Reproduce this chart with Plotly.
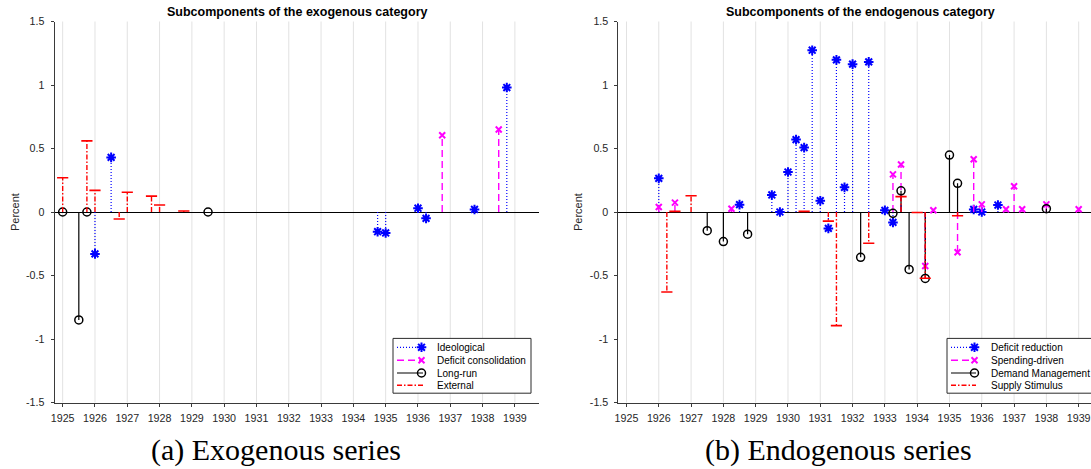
import plotly.graph_objects as go

W, H = 1091, 469

# ---------------- data ----------------
years = list(range(1925, 1940))
year_labels = [str(y) for y in years]
y_ticks = [-1.5, -1, -0.5, 0, 0.5, 1, 1.5]
y_tick_labels = ["-1.5", "-1", "-0.5", "0", "0.5", "1", "1.5"]

# (a) Exogenous series (quarterly, in fractional years)
ideo_x = [1926.0, 1926.5, 1934.75, 1935.0, 1936.0, 1936.25, 1937.75, 1938.75]
ideo_y = [-0.33, 0.43, -0.155, -0.165, 0.03, -0.05, 0.02, 0.98]

defcons_x = [1936.75, 1938.5]
defcons_y = [0.605, 0.65]

longrun_x = [1925.0, 1925.5, 1925.75, 1929.5]
longrun_y = [0.0, -0.85, 0.0, 0.0]

external_x = [1925.0, 1925.75, 1926.0, 1926.75, 1927.0, 1927.75, 1928.0, 1928.75]
external_y = [0.27, 0.56, 0.17, -0.055, 0.155, 0.125, 0.055, 0.008]

# (b) Endogenous series
defred_x = [1926.0, 1928.5, 1929.5, 1929.75, 1930.0, 1930.25, 1930.5, 1930.75,
            1931.0, 1931.25, 1931.5, 1931.75, 1932.0, 1932.5, 1933.0, 1933.25,
            1935.75, 1936.0, 1936.5]
defred_y = [0.265, 0.058, 0.134, 0.0, 0.315, 0.57, 0.507, 1.274,
            0.089, -0.129, 1.198, 0.194, 1.164, 1.182, 0.013, -0.082,
            0.02, 0.0, 0.055]

spend_x = [1926.0, 1926.5, 1928.25, 1933.25, 1933.5, 1934.25, 1934.5, 1935.25,
           1935.75, 1936.0, 1936.75, 1937.0, 1937.25, 1938.0, 1939.0]
spend_y = [0.039, 0.074, 0.026, 0.296, 0.374, -0.425, 0.014, -0.317,
           0.415, 0.06, 0.021, 0.203, 0.021, 0.06, 0.021]

demand_x = [1927.5, 1928.0, 1928.75, 1932.25, 1933.25, 1933.5, 1933.75, 1934.25,
            1935.0, 1935.25, 1938.0]
demand_y = [-0.147, -0.233, -0.175, -0.357, -0.01, 0.167, -0.452, -0.523,
            0.448, 0.226, 0.026]

supply_x = [1926.25, 1926.5, 1927.0, 1930.5, 1931.25, 1931.5, 1932.5, 1933.5,
            1934.0, 1934.25, 1935.25]
supply_y = [-0.63, 0.005, 0.128, 0.005, -0.072, -0.895, -0.246, 0.121,
            -0.004, -0.522, -0.029]

exo_names = ["Ideological", "Deficit consolidation", "Long-run", "External"]
endo_names = ["Deficit reduction", "Spending-driven", "Demand Management", "Supply Stimulus"]

# ---------------- styles ----------------
STY = {
    "blue": dict(color="#0000ff", dash="1px,2px", width=1.2,
                 symbol="asterisk-open", size=8, mlw=2.0, legend_marker=True),
    "mag": dict(color="#ff00ff", dash="7px,4px", width=1.4,
                symbol="x-thin-open", size=6, mlw=2.0, legend_marker=True),
    "black": dict(color="#000000", dash="solid", width=1.2,
                  symbol="circle-open", size=8, mlw=1.5, legend_marker=True),
    "red": dict(color="#ff0000", dash="5px,2px,1.5px,2px", width=1.4,
                symbol="line-ew-open", size=8, mlw=1.6, legend_marker=False),
}
ORDER = ["blue", "mag", "black", "red"]

# ---------------- geometry (page pixels) ----------------
SP = 32.3          # pixels per year
L1 = 54.6          # left edge of left axes
L2 = 618.4         # left edge of right axes
TOP, BOT = 21.5, 402.5
X0 = 1924.75
YPX = (BOT - TOP) / 3.0


def px2x(p, left):
    return X0 + (p - left) / SP


def py2y(p):
    return 1.5 - (p - TOP) / YPX


fig = go.Figure()


def stems(x, y):
    xs, ys = [], []
    for xi, yi in zip(x, y):
        xs += [xi, xi, None]
        ys += [0, yi, None]
    return xs, ys


def add_series(x, y, name, sty, xa, ya):
    s = STY[sty]
    xs, ys = stems(x, y)
    fig.add_trace(go.Scatter(x=xs, y=ys, mode="lines", xaxis=xa, yaxis=ya,
                             line=dict(color=s["color"], dash=s["dash"], width=s["width"]),
                             showlegend=False, hoverinfo="skip"))
    fig.add_trace(go.Scatter(x=x, y=y, mode="markers", xaxis=xa, yaxis=ya,
                             marker=dict(symbol=s["symbol"], size=s["size"],
                                         color=s["color"],
                                         line=dict(color=s["color"], width=s["mlw"])),
                             showlegend=False, name=name, hoverinfo="skip"))


add_series(ideo_x, ideo_y, exo_names[0], "blue", "x", "y")
add_series(defcons_x, defcons_y, exo_names[1], "mag", "x", "y")
add_series(longrun_x, longrun_y, exo_names[2], "black", "x", "y")
add_series(external_x, external_y, exo_names[3], "red", "x", "y")

add_series(defred_x, defred_y, endo_names[0], "blue", "x2", "y2")
add_series(spend_x, spend_y, endo_names[1], "mag", "x2", "y2")
add_series(demand_x, demand_y, endo_names[2], "black", "x2", "y2")
add_series(supply_x, supply_y, endo_names[3], "red", "x2", "y2")

# ---------------- shapes: grid + legend boxes ----------------
GRID = "#e2e2e2"
shapes = []
for xa, ya in (("x", "y"), ("x2", "y2")):
    for yr in years:
        shapes.append(dict(type="line", xref=xa, yref=ya + " domain", x0=yr, x1=yr,
                           y0=0, y1=1, layer="below",
                           line=dict(color=GRID, width=1)))

ann = []
LEGFONT = dict(family="Liberation Sans, Arial, sans-serif", size=10, color="#000000")
ROWS = [347.3, 360.3, 373.0, 385.3]


def custom_legend(names, xa, ya, left, box_l, box_r, key_l, key_r, text_l):
    shapes.append(dict(type="rect", xref=xa, yref=ya,
                       x0=px2x(box_l, left), x1=px2x(box_r, left),
                       y0=py2y(338.4), y1=py2y(393.2), layer="below",
                       fillcolor="white", line=dict(color="#2b2b2b", width=1)))
    for name, sty, row in zip(names, ORDER, ROWS):
        s = STY[sty]
        yy = py2y(row)
        fig.add_trace(go.Scatter(x=[px2x(key_l, left), px2x(key_r, left)], y=[yy, yy],
                                 mode="lines", xaxis=xa, yaxis=ya, showlegend=False,
                                 hoverinfo="skip",
                                 line=dict(color=s["color"], dash=s["dash"],
                                           width=s["width"])))
        if s["legend_marker"]:
            fig.add_trace(go.Scatter(x=[px2x(key_r - 1.5, left)], y=[yy], mode="markers",
                                     xaxis=xa, yaxis=ya, showlegend=False,
                                     hoverinfo="skip",
                                     marker=dict(symbol=s["symbol"], size=s["size"],
                                                 color=s["color"],
                                                 line=dict(color=s["color"],
                                                           width=s["mlw"]))))
        ann.append(dict(text=name, x=px2x(text_l, left), y=yy, xref=xa, yref=ya,
                        showarrow=False, font=LEGFONT, xanchor="left",
                        yanchor="middle"))


custom_legend(exo_names, "x", "y", L1, 393, 531, 397, 423, 434.5)
custom_legend(endo_names, "x2", "y2", L2, 947, 1110, 951, 976, 988.6)

# ---------------- axes ----------------
AX = "#3a3a3a"
TICKFONT = dict(family="Liberation Sans, Arial, sans-serif", size=10.7, color="#262626")

xcommon = dict(tickvals=years, ticktext=year_labels, showgrid=False,
               showline=True, linecolor=AX, linewidth=1, ticks="outside",
               ticklen=3, tickcolor=AX, tickfont=TICKFONT, zeroline=False,
               ticklabelstandoff=3)
ycommon = dict(range=[-1.5, 1.5], tickvals=y_ticks, ticktext=y_tick_labels,
               showgrid=False, showline=True, linecolor=AX, linewidth=1,
               ticks="outside", ticklen=3, tickcolor=AX, tickfont=TICKFONT,
               zeroline=True, zerolinecolor="#000000", zerolinewidth=1,
               ticklabelstandoff=4,
               domain=[1 - BOT / H, 1 - TOP / H])

xa1 = dict(xcommon)
xa1.update(range=[X0, X0 + 15], domain=[L1 / W, (L1 + 15 * SP) / W], anchor="y")
xa2 = dict(xcommon)
xa2.update(range=[X0, X0 + (W - L2) / SP], domain=[L2 / W, 1.0], anchor="y2")
ya1 = dict(ycommon)
ya1.update(anchor="x")
ya2 = dict(ycommon)
ya2.update(anchor="x2")

# ---------------- texts ----------------
TFONT = dict(family="Liberation Sans, Arial, sans-serif", size=12.5, color="#000000")
ann.append(dict(text="<b>Subcomponents of the exogenous category</b>", x=(L1 + 7.5 * SP) / W,
                y=1 - 12 / H, xref="paper", yref="paper", showarrow=False, font=TFONT,
                xanchor="center", yanchor="middle"))
ann.append(dict(text="<b>Subcomponents of the endogenous category</b>", x=(L2 + 7.5 * SP) / W,
                y=1 - 12 / H, xref="paper", yref="paper", showarrow=False, font=TFONT,
                xanchor="center", yanchor="middle"))
PFONT = dict(family="Liberation Sans, Arial, sans-serif", size=11, color="#262626")
ann.append(dict(text="Percent", x=15 / W, y=1 - 212 / H, xref="paper", yref="paper",
                showarrow=False, textangle=-90, font=PFONT, xanchor="center",
                yanchor="middle"))
ann.append(dict(text="Percent", x=578 / W, y=1 - 212 / H, xref="paper", yref="paper",
                showarrow=False, textangle=-90, font=PFONT, xanchor="center",
                yanchor="middle"))
CFONT = dict(family="Liberation Serif, Times New Roman, serif", size=30, color="#000000")
ann.append(dict(text="(a) Exogenous series", x=275.5 / W, y=1 - 450 / H, xref="paper",
                yref="paper", showarrow=False, font=CFONT, xanchor="center",
                yanchor="middle"))
ann.append(dict(text="(b) Endogenous series", x=838 / W, y=1 - 450 / H, xref="paper",
                yref="paper", showarrow=False, font=CFONT, xanchor="center",
                yanchor="middle"))

fig.update_layout(
    width=W, height=H,
    margin=dict(l=0, r=0, t=0, b=0, autoexpand=False),
    paper_bgcolor="white", plot_bgcolor="white",
    xaxis=xa1, yaxis=ya1, xaxis2=xa2, yaxis2=ya2,
    showlegend=False,
    shapes=shapes,
    annotations=ann,
    hovermode=False,
)

fig.write_html("out.html",
               config={"displayModeBar": False, "staticPlot": True},
               post_script="document.body.style.margin='0px';"
                           "document.body.style.overflow='hidden';")
